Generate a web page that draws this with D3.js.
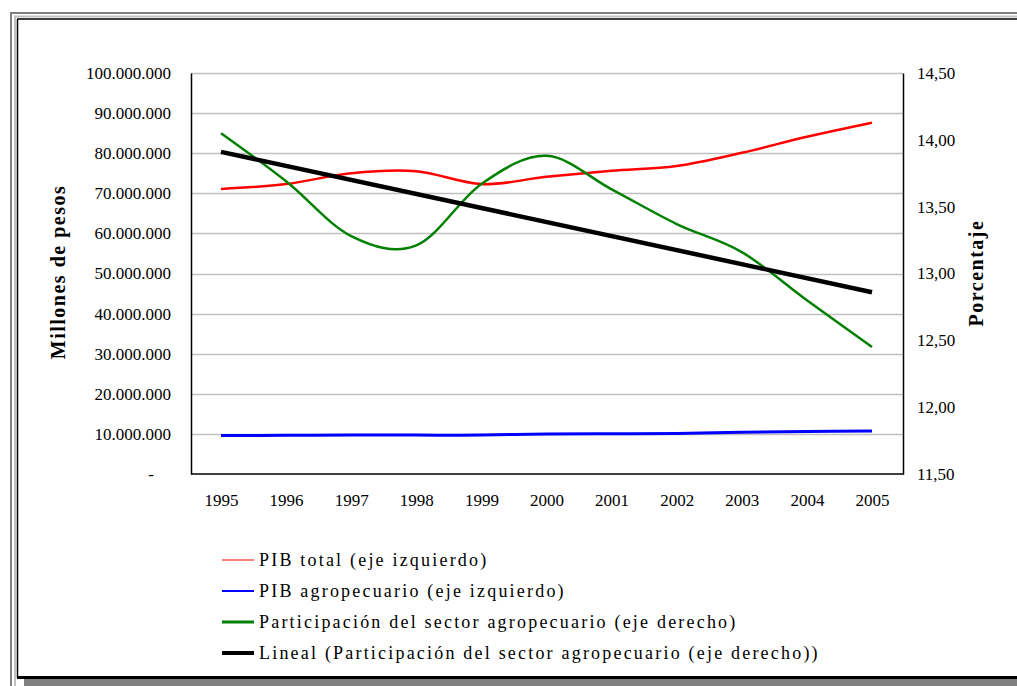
<!DOCTYPE html>
<html>
<head>
<meta charset="utf-8">
<script src="https://cdn.jsdelivr.net/npm/d3@7"></script>
<style>
  body { margin: 0; background: #fff; }
  svg { display: block; }
  svg text { font-family: "Liberation Serif", "DejaVu Serif", serif; }
</style>
</head>
<body>
<div id="chart"></div>
<script>
// data
var years = ["1995", "1996", "1997", "1998", "1999", "2000", "2001", "2002", "2003", "2004", "2005"];
var pibTotal = [71100000, 72300000, 75000000, 75500000, 72300000, 74100000, 75600000, 76800000, 80100000, 84100000, 87600000];
var pibAgro = [9600000, 9650000, 9700000, 9700000, 9700000, 10000000, 10050000, 10100000, 10400000, 10600000, 10700000];
var participacion = [14.05, 13.69, 13.28, 13.21, 13.67, 13.88, 13.63, 13.37, 13.16, 12.80, 12.45];
// linear trend of participacion, read at both ends
var tendencia = [{ year: "1995", v: 13.91 }, { year: "2005", v: 12.86 }];
var leftTicks = [0, 10000000, 20000000, 30000000, 40000000, 50000000, 60000000, 70000000, 80000000, 90000000, 100000000];
var rightTicks = [11.5, 12, 12.5, 13, 13.5, 14, 14.5];
var legendLabels = [
  "PIB total (eje izquierdo)",
  "PIB agropecuario (eje izquierdo)",
  "Participación del sector agropecuario (eje derecho)",
  "Lineal (Participación del sector agropecuario (eje derecho))"
];

var width = 1017, height = 686;
var plot = { left: 191, right: 903, top: 73, bottom: 474 };

var es = d3.formatLocale({ decimal: ",", thousands: ".", grouping: [3], currency: ["$", ""] });
var fmtLeft = es.format(",.0f");
var fmtRight = es.format(",.2f");

var svg = d3.select("#chart").append("svg")
  .attr("width", width)
  .attr("height", height);

// window frame
var frame = svg.append("g");
frame.append("line").attr("x1", 10).attr("x2", width).attr("y1", 13).attr("y2", 13).attr("stroke", "#808080").attr("stroke-width", 2);
frame.append("line").attr("x1", 11).attr("x2", 11).attr("y1", 12).attr("y2", height).attr("stroke", "#808080").attr("stroke-width", 2);
frame.append("line").attr("x1", 14).attr("x2", width).attr("y1", 16.5).attr("y2", 16.5).attr("stroke", "#c0c0c0").attr("stroke-width", 2);
frame.append("line").attr("x1", 15).attr("x2", 15).attr("y1", 16).attr("y2", height).attr("stroke", "#c0c0c0").attr("stroke-width", 2);
frame.append("line").attr("x1", 17).attr("x2", width).attr("y1", 19).attr("y2", 19).attr("stroke", "#000").attr("stroke-width", 1.5);
frame.append("line").attr("x1", 17.5).attr("x2", 17.5).attr("y1", 19).attr("y2", 678).attr("stroke", "#000").attr("stroke-width", 1.5);
frame.append("line").attr("x1", 17).attr("x2", width).attr("y1", 677.5).attr("y2", 677.5).attr("stroke", "#000").attr("stroke-width", 3);
frame.append("rect").attr("x", 24).attr("y", 679).attr("width", width - 24).attr("height", height - 679).attr("fill", "#808080");

// scales
var x = d3.scalePoint().domain(years).range([221, 872]);
var yL = d3.scaleLinear().domain([0, 100000000]).range([plot.bottom, plot.top]);
var yR = d3.scaleLinear().domain([11.5, 14.5]).range([plot.bottom, plot.top]);

// gridlines
svg.append("g")
  .selectAll("line")
  .data(leftTicks.slice(1))
  .enter()
  .append("line")
  .attr("x1", plot.left)
  .attr("x2", plot.right)
  .attr("y1", (d) => Math.round(yL(d)) + 0.5)
  .attr("y2", (d) => Math.round(yL(d)) + 0.5)
  .attr("stroke", "#c0c0c0")
  .attr("stroke-width", 1.5);

// axes
var leftAxis = svg.append("g")
  .attr("transform", "translate(" + plot.left + ",0)")
  .call(d3.axisLeft(yL).tickValues(leftTicks).tickSize(0).tickSizeOuter(0).tickPadding(20)
    .tickFormat((d) => d === 0 ? "-" : fmtLeft(d)));
leftAxis.selectAll("text").filter((d) => d === 0).attr("dx", -17);

var rightAxis = svg.append("g")
  .attr("transform", "translate(" + plot.right + ",0)")
  .call(d3.axisRight(yR).tickValues(rightTicks).tickSize(0).tickSizeOuter(0).tickPadding(14)
    .tickFormat(fmtRight));

var bottomAxis = svg.append("g")
  .attr("transform", "translate(0," + (plot.bottom + 20) + ")")
  .call(d3.axisBottom(x).tickSize(0).tickPadding(0));
bottomAxis.select(".domain").remove();

[leftAxis, rightAxis, bottomAxis].forEach(function (g) {
  g.attr("font-family", "Liberation Serif").attr("font-size", 17);
  g.selectAll("text").attr("fill", "#000").attr("font-family", "Liberation Serif");
  g.select(".domain").attr("stroke", "#000").attr("stroke-width", 1.5);
});

svg.append("line")
  .attr("x1", plot.left).attr("x2", plot.right + 1)
  .attr("y1", plot.bottom).attr("y2", plot.bottom)
  .attr("stroke", "#000").attr("stroke-width", 1.5);

// axis titles
svg.append("text")
  .attr("transform", "translate(58,272) rotate(-90)")
  .attr("text-anchor", "middle")
  .attr("dominant-baseline", "central")
  .attr("font-family", "Liberation Serif")
  .attr("font-size", 20)
  .attr("font-weight", "bold")
  .attr("letter-spacing", 1.5)
  .text("Millones de pesos");

svg.append("text")
  .attr("transform", "translate(976,273) rotate(-90)")
  .attr("text-anchor", "middle")
  .attr("dominant-baseline", "central")
  .attr("font-family", "Liberation Serif")
  .attr("font-size", 20)
  .attr("font-weight", "bold")
  .attr("letter-spacing", 1.5)
  .text("Porcentaje");

// series
var smooth = d3.curveCardinal.tension(0);

var lineLeft = d3.line().x((d, i) => x(years[i])).y((d) => yL(d)).curve(smooth);
var lineRight = d3.line().x((d, i) => x(years[i])).y((d) => yR(d)).curve(smooth);

svg.append("path").datum(pibTotal).attr("d", lineLeft)
  .attr("fill", "none").attr("stroke", "#ff0000").attr("stroke-width", 2.5);

svg.append("path").datum(pibAgro).attr("d", lineLeft)
  .attr("fill", "none").attr("stroke", "#0000ff").attr("stroke-width", 3);

svg.append("path").datum(participacion).attr("d", lineRight)
  .attr("fill", "none").attr("stroke", "#008000").attr("stroke-width", 2.5);

svg.append("path").datum(tendencia)
  .attr("d", d3.line().x((d) => x(d.year)).y((d) => yR(d.v)))
  .attr("fill", "none").attr("stroke", "#000").attr("stroke-width", 4.5);

// legend
var legendColors = ["#ff0000", "#0000ff", "#008000", "#000"];
var legendWidths = [1, 2, 3, 4];
var legend = svg.append("g")
  .selectAll("g")
  .data(legendLabels)
  .enter()
  .append("g")
  .attr("transform", (d, i) => "translate(222," + (560 + i * 31) + ")");

legend.append("line")
  .attr("x1", 0).attr("x2", 32)
  .attr("stroke", (d, i) => legendColors[i])
  .attr("stroke-width", (d, i) => legendWidths[i]);

legend.append("text")
  .attr("x", 37)
  .attr("dominant-baseline", "central")
  .attr("font-family", "Liberation Serif")
  .attr("font-size", 18)
  .attr("letter-spacing", 2.2)
  .text((d) => d);
</script>
</body>
</html>
